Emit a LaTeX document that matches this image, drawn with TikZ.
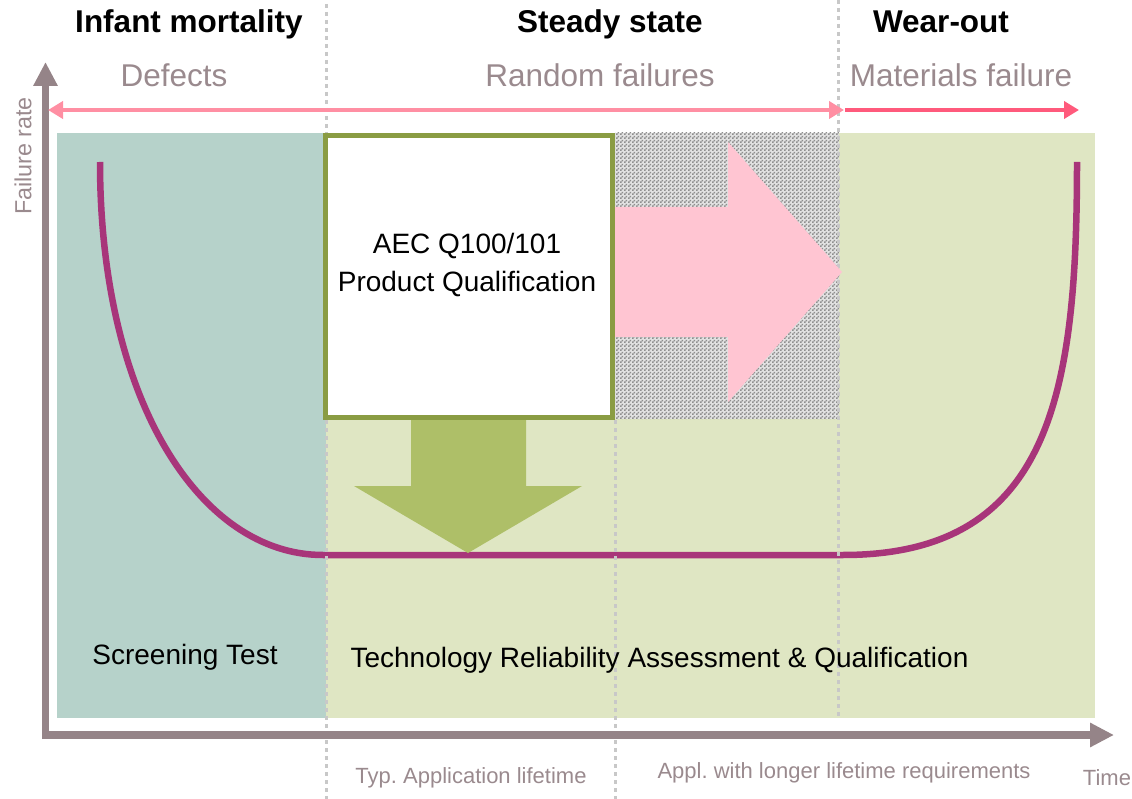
\documentclass[tikz,border=0pt]{standalone}
\usepackage{fontspec}
\setmainfont{Liberation Sans}
\usetikzlibrary{positioning}
\usetikzlibrary{patterns}
\usetikzlibrary{arrows.meta}

\definecolor{Teal}{HTML}{B6D2CA}
\definecolor{LightGreen}{HTML}{DFE6C3}
\definecolor{Olive}{HTML}{8A9C43}
\definecolor{ArrowGreen}{HTML}{AEBF68}
\definecolor{ArrowPink}{HTML}{FFC5D2}
\definecolor{LinePink}{HTML}{FF8FA3}
\definecolor{DeepPink}{HTML}{FF5A7C}
\definecolor{Magenta}{HTML}{A8357A}
\definecolor{AxisGray}{HTML}{958488}
\definecolor{TextGray}{HTML}{9A8A8E}
\definecolor{DotGray}{HTML}{C8C8C8}
\definecolor{HatchGray}{HTML}{8E8E8E}
\definecolor{HatchBack}{HTML}{E2E2E2}

\pgfdeclarepatternformonly{finechecker}{\pgfpointorigin}{\pgfqpoint{4pt}{4pt}}{\pgfqpoint{4pt}{4pt}}{
	\pgfpathrectangle{\pgfpointorigin}{\pgfqpoint{2pt}{2pt}}
	\pgfpathrectangle{\pgfqpoint{2pt}{2pt}}{\pgfqpoint{2pt}{2pt}}
	\pgfusepath{fill}
}

\begin{document}
\frenchspacing
\begin{tikzpicture}[x=1pt,y=-1pt,inner sep=0pt,
		dotline/.style={draw=DotGray, line width=3pt, dash pattern=on 4pt off 4pt},
		title/.style={anchor=base, font=\fontsize{31.5}{38}\selectfont\bfseries},
		phase/.style={anchor=base, text=TextGray, font=\fontsize{31.5}{38}\selectfont},
		label/.style={anchor=base, font=\fontsize{28}{38}\selectfont},
		note/.style={anchor=base, text=TextGray, font=\fontsize{22}{26}\selectfont},
		qualbox/.style={
			draw=Olive,
			fill=white,
			line width=5pt,
			minimum width=287pt,
			minimum height=281pt,
		},
		axis/.style={draw=AxisGray, -{Triangle[length=24pt,width=23pt]}},
		span/.style={line width=4.5pt},
	]
		\useasboundingbox (0,0) rectangle (1132,799);
		
		% phases
		\fill[Teal] (57,133) rectangle (326,718);
		\fill[LightGreen] (326,133) rectangle (1095,718);
		\fill[HatchBack] (615,133) rectangle (839,419);
		\fill[pattern=finechecker, pattern color=HatchGray] (615,133) rectangle (839,419);
		
		% bathtub curve
		\draw[Magenta, line width=6.5pt] (100,162) .. controls (100,400) and (200,555) .. (323,555)
			-- (843,555) .. controls (1050,555) and (1077,395) .. (1077,162);
		
		\draw[dotline] (326,4) -- (326,799);
		\draw[dotline] (615,420) -- (615,799);
		\draw[dotline] (838,0) -- (838,718);
		
		% block arrows
		\fill[ArrowGreen] (411,418) -- (526,418) -- (526,486) -- (582,486) -- (468,553) -- (354,486) -- (411,486) -- cycle;
		\fill[ArrowPink] (613,207) -- (728,207) -- (728,142) -- (842,272) -- (728,402) -- (728,337) -- (613,337) -- cycle;
		
		\node[qualbox] (qual) at (468.5,276.5) {};
		\node[label] (aec) at (467,254) {AEC Q100/101};
		\node[label, below=38pt of aec.base, anchor=base] (prodq) {Product Qualification};
		
		\node[label] (screen) at (185,664) {Screening Test};
		\node[label] (tech) at (659.5,667) {Technology Reliability Assessment \& Qualification};
		
		% axes
		\coordinate (ybot) at (45.5,739);
		\coordinate (ytip) at (45.5,62);
		\coordinate (xleft) at (42,735);
		\coordinate (xtip) at (1114,735);
		\draw[axis, line width=7pt] (ybot) -- (ytip);
		\draw[axis, line width=8pt] (xleft) -- (xtip);
		
		% phase spans
		\coordinate (defl) at (48,110);
		\coordinate (randr) at (844,110);
		\coordinate (wearl) at (845,110);
		\coordinate (wearr) at (1079,110);
		\draw[span, LinePink, {Triangle[length=15pt,width=17pt]}-{Triangle[length=15pt,width=17pt]}] (defl) -- (randr);
		\draw[span, DeepPink, -{Triangle[length=15pt,width=17pt]}] (wearl) -- (wearr);
		
		\node[title] (infant) at (189,33) {Infant mortality};
		\node[title] (steady) at (610,33) {Steady state};
		\node[title] (wear) at (941,33) {Wear-out};
		\node[phase] (defects) at (174,87) {Defects};
		\node[phase] (random) at (600,87) {Random failures};
		\node[phase] (material) at (961,87) {Materials failure};
		
		\node[note] (typ) at (471,783) {Typ. Application lifetime};
		\node[note] (longer) at (844,778) {Appl. with longer lifetime requirements};
		\node[note] (time) at (1107,785) {Time};
		\node[note, anchor=center, rotate=90, font=\fontsize{23.3}{28}\selectfont] (frate) at (23,156) {Failure rate};
	\end{tikzpicture}
\end{document}
